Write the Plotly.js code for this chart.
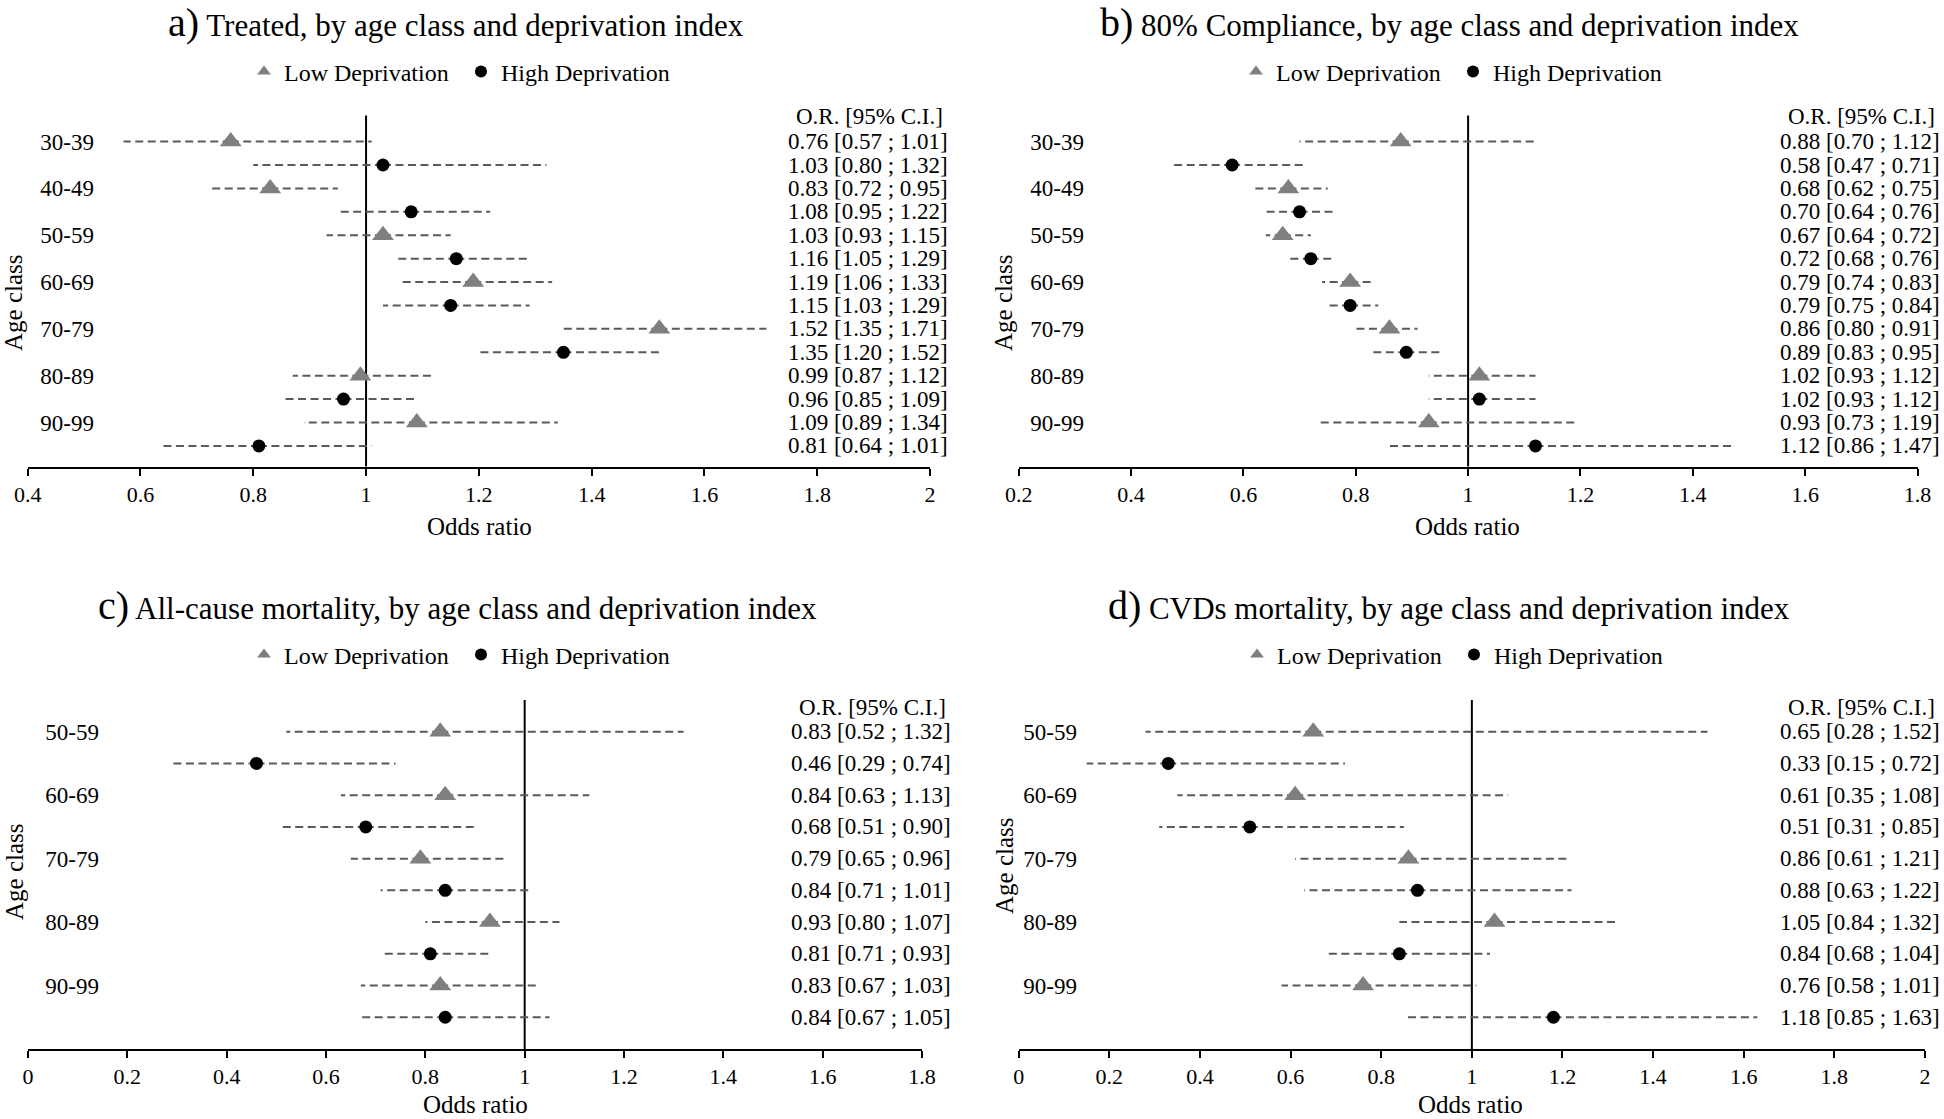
<!DOCTYPE html>
<html>
<head>
<meta charset="utf-8">
<script src="https://cdn.plot.ly/plotly-3.0.1.min.js"></script>
<style>html,body{margin:0;padding:0;background:#fff;}#chart{width:1944px;height:1119px;}</style>
</head>
<body>
<div id="chart"></div>
<script>
// ---------------- DATA ----------------
const seriesNames = ["Low Deprivation", "High Deprivation"];
const orHeader = "O.R. [95% C.I.]";
const xAxisTitle = "Odds ratio";
const yAxisTitle = "Age class";

const titleA = "Treated, by age class and deprivation index";
const titleB = "80% Compliance, by age class and deprivation index";
const titleC = "All-cause mortality, by age class and deprivation index";
const titleD = "CVDs mortality, by age class and deprivation index";

const ageTop = ["30-39", "40-49", "50-59", "60-69", "70-79", "80-89", "90-99"];
const ageBottom = ["50-59", "60-69", "70-79", "80-89", "90-99"];

// a) Treated
const aLowOR = [0.76, 0.83, 1.03, 1.19, 1.52, 0.99, 1.09];
const aLowLo = [0.57, 0.72, 0.93, 1.06, 1.35, 0.87, 0.89];
const aLowHi = [1.01, 0.95, 1.15, 1.33, 1.71, 1.12, 1.34];
const aHighOR = [1.03, 1.08, 1.16, 1.15, 1.35, 0.96, 0.81];
const aHighLo = [0.80, 0.95, 1.05, 1.03, 1.20, 0.85, 0.64];
const aHighHi = [1.32, 1.22, 1.29, 1.29, 1.52, 1.09, 1.01];

// b) 80% Compliance
const bLowOR = [0.88, 0.68, 0.67, 0.79, 0.86, 1.02, 0.93];
const bLowLo = [0.70, 0.62, 0.64, 0.74, 0.80, 0.93, 0.73];
const bLowHi = [1.12, 0.75, 0.72, 0.83, 0.91, 1.12, 1.19];
const bHighOR = [0.58, 0.70, 0.72, 0.79, 0.89, 1.02, 1.12];
const bHighLo = [0.47, 0.64, 0.68, 0.75, 0.83, 0.93, 0.86];
const bHighHi = [0.71, 0.76, 0.76, 0.84, 0.95, 1.12, 1.47];

// c) All-cause mortality
const cLowOR = [0.83, 0.84, 0.79, 0.93, 0.83];
const cLowLo = [0.52, 0.63, 0.65, 0.80, 0.67];
const cLowHi = [1.32, 1.13, 0.96, 1.07, 1.03];
const cHighOR = [0.46, 0.68, 0.84, 0.81, 0.84];
const cHighLo = [0.29, 0.51, 0.71, 0.71, 0.67];
const cHighHi = [0.74, 0.90, 1.01, 0.93, 1.05];

// d) CVDs mortality
const dLowOR = [0.65, 0.61, 0.86, 1.05, 0.76];
const dLowLo = [0.28, 0.35, 0.61, 0.84, 0.58];
const dLowHi = [1.52, 1.08, 1.21, 1.32, 1.01];
const dHighOR = [0.33, 0.51, 0.88, 0.84, 1.18];
const dHighLo = [0.15, 0.31, 0.63, 0.68, 0.85];
const dHighHi = [0.72, 0.85, 1.22, 1.04, 1.63];

// x tick labels
const ticksA = ["0.4","0.6","0.8","1","1.2","1.4","1.6","1.8","2"];
const ticksB = ["0.2","0.4","0.6","0.8","1","1.2","1.4","1.6","1.8"];
const ticksC = ["0","0.2","0.4","0.6","0.8","1","1.2","1.4","1.6","1.8"];
const ticksD = ["0","0.2","0.4","0.6","0.8","1","1.2","1.4","1.6","1.8","2"];
const refOR = 1;

// ---------------- LAYOUT HELPERS ----------------
const W = 1944, H = 1119;
const X = v => v / W;
const Y = v => 1 - v / H;
const FONT = '"Liberation Serif", "Times New Roman", serif';
const GRAY_TRI = '#7f7f7f';
const WHISK = '#5a5a5a';

const panels = [
  {key:'a', label:'a)', title:titleA, ages:ageTop, tick:ticksA,
   low:[aLowOR,aLowLo,aLowHi], high:[aHighOR,aHighLo,aHighHi],
   xdom:[27.7,930], ytop:115.4, ybot:466.5, yr:[13.88,-1.12],
   ylabEdge:92, orRight:950, hdrY:116, titleX:456, titleY:22, legX:244, legY:72,
   oddsX:479, oddsY:527, oddsBottom:false, ageX:14, ageY:303},
  {key:'b', label:'b)', title:titleB, ages:ageTop, tick:ticksB,
   low:[bLowOR,bLowLo,bLowHi], high:[bHighOR,bHighLo,bHighHi],
   xdom:[1018.7,1917.5], ytop:115.4, ybot:466.5, yr:[13.88,-1.12],
   ylabEdge:1082, orRight:1942, hdrY:116, titleX:1449, titleY:22, legX:1236, legY:72,
   oddsX:1467, oddsY:527, oddsBottom:false, ageX:1004, ageY:303},
  {key:'c', label:'c)', title:titleC, ages:ageBottom, tick:ticksC,
   low:[cLowOR,cLowLo,cLowHi], high:[cHighOR,cHighLo,cHighHi],
   xdom:[28,922], ytop:700, ybot:1049, yr:[10,-1],
   ylabEdge:97, orRight:953, hdrY:707, titleX:457, titleY:605, legX:244, legY:655,
   oddsX:475, oddsY:1119, oddsBottom:true, ageX:14, ageY:872},
  {key:'d', label:'d)', title:titleD, ages:ageBottom, tick:ticksD,
   low:[dLowOR,dLowLo,dLowHi], high:[dHighOR,dHighLo,dHighHi],
   xdom:[1018.7,1925], ytop:700, ybot:1049, yr:[10,-1],
   ylabEdge:1075, orRight:1942, hdrY:707, titleX:1449, titleY:605, legX:1237, legY:655,
   oddsX:1470, oddsY:1119, oddsBottom:true, ageX:1004, ageY:866}
];

const traces = [];
const annotations = [];
const shapes = [];
const layout = {
  width: W, height: H,
  margin: {l:0, r:0, t:0, b:0},
  paper_bgcolor: '#ffffff', plot_bgcolor: 'rgba(0,0,0,0)',
  font: {family: FONT, color: '#000', size: 22},
  showlegend: true,
  annotations: annotations, shapes: shapes
};

const fmt = v => v.toFixed(2);

panels.forEach((p, k) => {
  const sfx = k === 0 ? '' : String(k + 1);
  const xa = 'x' + sfx, ya = 'y' + sfx;
  const legName = 'legend' + sfx;

  layout['xaxis' + sfx] = {
    domain: [X(p.xdom[0]), X(p.xdom[1])],
    range: [parseFloat(p.tick[0]), parseFloat(p.tick[p.tick.length - 1])],
    anchor: ya,
    tickvals: p.tick.map(Number), ticktext: p.tick,
    showgrid: false, zeroline: false,
    showline: true, linecolor: '#000', linewidth: 2,
    ticks: 'outside', ticklen: 7, tickwidth: 2, tickcolor: '#000',
    ticklabelstandoff: 0,
    tickfont: {family: FONT, size: 22, color: '#000'},
    fixedrange: true
  };
  const rows = [];
  p.ages.forEach((a, i) => rows.push(2 * i));
  layout['yaxis' + sfx] = {
    domain: [Y(p.ybot), Y(p.ytop)],
    range: p.yr,
    anchor: 'free', position: X(p.ylabEdge + 2),
    tickvals: rows, ticktext: p.ages,
    ticks: '', showgrid: false, zeroline: false, showline: false,
    tickfont: {family: FONT, size: 23, color: '#000'},
    fixedrange: true
  };
  layout[legName] = {
    orientation: 'h', x: X(p.legX), y: Y(p.legY), xanchor: 'left', yanchor: 'middle',
    font: {family: FONT, size: 24, color: '#000'},
    bgcolor: 'rgba(0,0,0,0)', borderwidth: 0, itemsizing: 'constant',
    entrywidth: 172, entrywidthmode: 'pixels',
    traceorder: 'normal', itemclick: false, itemdoubleclick: false
  };

  const series = [
    {name: seriesNames[0], d: p.low, off: 0, sym: 'triangle-up', size: 19, color: GRAY_TRI},
    {name: seriesNames[1], d: p.high, off: 1, sym: 'circle', size: 13, color: '#000'}
  ];
  // whiskers (dashed, drawn from point outward)
  series.forEach(s => {
    const wx = [], wy = [];
    s.d[0].forEach((o, i) => {
      const r = 2 * i + s.off;
      wx.push(o, s.d[1][i], null, o, s.d[2][i], null);
      wy.push(r, r, null, r, r, null);
    });
    traces.push({
      type: 'scatter', mode: 'lines', x: wx, y: wy, xaxis: xa, yaxis: ya,
      line: {color: WHISK, width: 2, dash: '8px,4.5px'},
      showlegend: false, hoverinfo: 'skip', legend: legName
    });
  });
  // points
  series.forEach(s => {
    traces.push({
      type: 'scatter', mode: 'markers', name: s.name,
      x: s.d[0], y: s.d[0].map((o, i) => 2 * i + s.off),
      xaxis: xa, yaxis: ya, legend: legName,
      marker: {symbol: s.sym, size: s.size, color: s.color, line: {width: 0}},
      cliponaxis: false
    });
    // O.R. text column
    s.d[0].forEach((o, i) => {
      annotations.push({
        xref: 'paper', yref: ya, x: X(p.orRight), y: 2 * i + s.off,
        xanchor: 'right', yanchor: 'middle', showarrow: false,
        text: fmt(o) + ' [' + fmt(s.d[1][i]) + ' ; ' + fmt(s.d[2][i]) + ']',
        font: {family: FONT, size: 23, color: '#000'}
      });
    });
  });

  // reference line at OR = 1
  shapes.push({
    type: 'line', xref: xa, yref: ya + ' domain', x0: refOR, x1: refOR, y0: 0, y1: 1,
    line: {color: '#000', width: 2}, layer: 'below'
  });

  // header
  annotations.push({
    xref: 'paper', yref: 'paper', x: X(p.orRight - 5), y: Y(p.hdrY),
    xanchor: 'right', yanchor: 'middle', showarrow: false, text: orHeader,
    font: {family: FONT, size: 23, color: '#000'}
  });
  // panel title
  annotations.push({
    xref: 'paper', yref: 'paper', x: X(p.titleX), y: Y(p.titleY),
    xanchor: 'center', yanchor: 'middle', showarrow: false,
    text: '<span style="font-size:40px">' + p.label + '</span> ' + p.title,
    font: {family: FONT, size: 31, color: '#000'}
  });
  // x axis title
  annotations.push({
    xref: 'paper', yref: 'paper', x: X(p.oddsX), y: Y(p.oddsY),
    xanchor: 'center', yanchor: p.oddsBottom ? 'bottom' : 'middle', showarrow: false,
    text: xAxisTitle, borderpad: 0,
    font: {family: FONT, size: 25, color: '#000'}
  });
  // y axis title
  annotations.push({
    xref: 'paper', yref: 'paper', x: X(p.ageX), y: Y(p.ageY),
    xanchor: 'center', yanchor: 'middle', showarrow: false, text: yAxisTitle,
    textangle: -90,
    font: {family: FONT, size: 25, color: '#000'}
  });
});

Plotly.newPlot('chart', traces, layout, {displayModeBar: false, staticPlot: true});
</script>
</body>
</html>
